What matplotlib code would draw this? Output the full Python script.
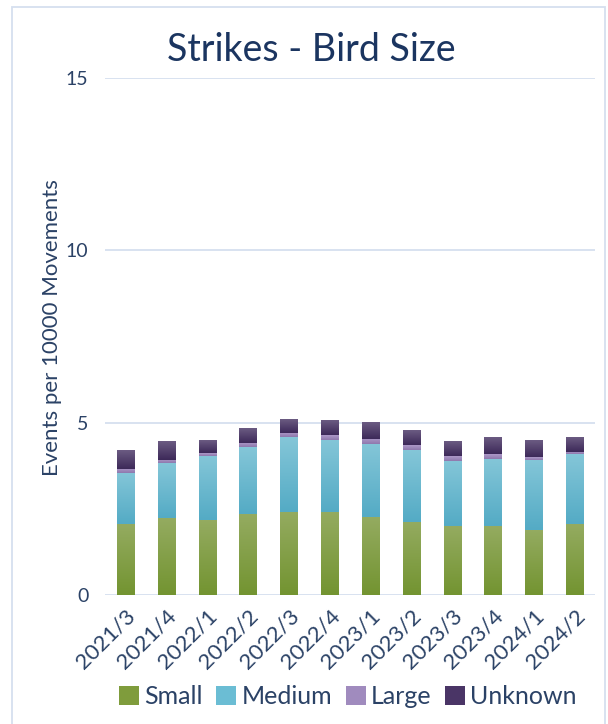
import matplotlib
matplotlib.use("Agg")
import matplotlib.pyplot as plt
import numpy as np
from matplotlib.colors import LinearSegmentedColormap
from matplotlib.patches import Rectangle

plt.rcParams['font.family'] = ['Lato', 'DejaVu Sans']

quarters = ["2021/3", "2021/4", "2022/1", "2022/2", "2022/3", "2022/4",
            "2023/1", "2023/2", "2023/3", "2023/4", "2024/1", "2024/2"]
small = [2.05, 2.23, 2.17, 2.34, 2.42, 2.40, 2.25, 2.13, 1.99, 1.99, 1.88, 2.05]
medium = [1.48, 1.59, 1.86, 1.94, 2.15, 2.09, 2.12, 2.07, 1.91, 1.97, 2.05, 2.03]
large = [0.14, 0.11, 0.08, 0.12, 0.12, 0.14, 0.17, 0.14, 0.12, 0.12, 0.06, 0.06]
unknown = [0.55, 0.53, 0.35, 0.43, 0.38, 0.41, 0.47, 0.41, 0.41, 0.47, 0.47, 0.41]
series_names = ["Small", "Medium", "Large", "Unknown"]
y_ticks = [0, 5, 10, 15]

# (bottom colour, top colour, legend colour) for each series
shades = [("#739431", "#94AB60", "#7F9C3C"),
          ("#54ABC5", "#84C6D8", "#6BBDD4"),
          ("#8F78AD", "#AC98C7", "#A08BBE"),
          ("#3D2959", "#6B5B82", "#4A3566")]

text_col = "#2B4266"
title_col = "#1B3560"
grid_col = "#D5DFEF"

fig = plt.figure(figsize=(6.08, 7.24), dpi=100)
ax = fig.add_axes([105 / 608, 1 - 595 / 724, 490 / 608, 517 / 724])

x = np.arange(len(quarters))
width = 0.42
bottom = np.zeros(len(quarters))
handles = []
for name, vals, (c0, c1, cl) in zip(series_names, [small, medium, large, unknown], shades):
    bars = ax.bar(x, vals, width, bottom=bottom, color=cl, label=name, zorder=2)
    cmap = LinearSegmentedColormap.from_list(name, [c0, c1])
    grad = np.linspace(0, 1, 64).reshape(-1, 1)
    for b in bars:
        x0, y0 = b.get_x(), b.get_y()
        ax.imshow(grad, cmap=cmap, origin="lower", aspect="auto", zorder=3,
                  extent=[x0, x0 + b.get_width(), y0, y0 + b.get_height()],
                  interpolation="bilinear")
    handles.append(Rectangle((0, 0), 1, 1, facecolor=cl))
    bottom += np.array(vals)

ax.set_xlim(-0.5, len(quarters) - 0.5)
ax.set_ylim(0, 15)
ax.set_yticks(y_ticks)
ax.set_yticklabels([str(t) for t in y_ticks], fontsize=14, color=text_col)
ax.set_xticks(x)
ax.set_xticklabels(quarters, rotation=45, ha="right", rotation_mode="anchor",
                   fontsize=16, color=text_col)
ax.tick_params(axis="both", length=0)
ax.tick_params(axis="y", pad=12)
ax.tick_params(axis="x", pad=8)
for s in ax.spines.values():
    s.set_visible(False)
ax.yaxis.grid(True, color=grid_col, linewidth=1.3, zorder=0)
ax.set_axisbelow(True)

ax.set_ylabel("Events per 10000 Movements", fontsize=16, color=text_col)
ax.yaxis.set_label_coords(-0.088, 0.518)

fig.text(311 / 608, 1 - 50 / 724, "Strikes - Bird Size", ha="center", va="center",
         fontsize=27, color=title_col)

leg = fig.legend(handles, series_names, loc="center", ncol=4,
                 bbox_to_anchor=(348 / 608, 1 - 697 / 724), frameon=False,
                 fontsize=18, handlelength=0.8, handleheight=0.8,
                 handletextpad=0.2, columnspacing=0.55)
for t in leg.get_texts():
    t.set_color(text_col)

fig.patches.append(Rectangle((11.5 / 608, -0.05), (605 - 11.5) / 608, 1.05 - 7 / 724,
                             transform=fig.transFigure, fill=False,
                             edgecolor=grid_col, linewidth=1.3))

fig.savefig("out.png", dpi=100)
